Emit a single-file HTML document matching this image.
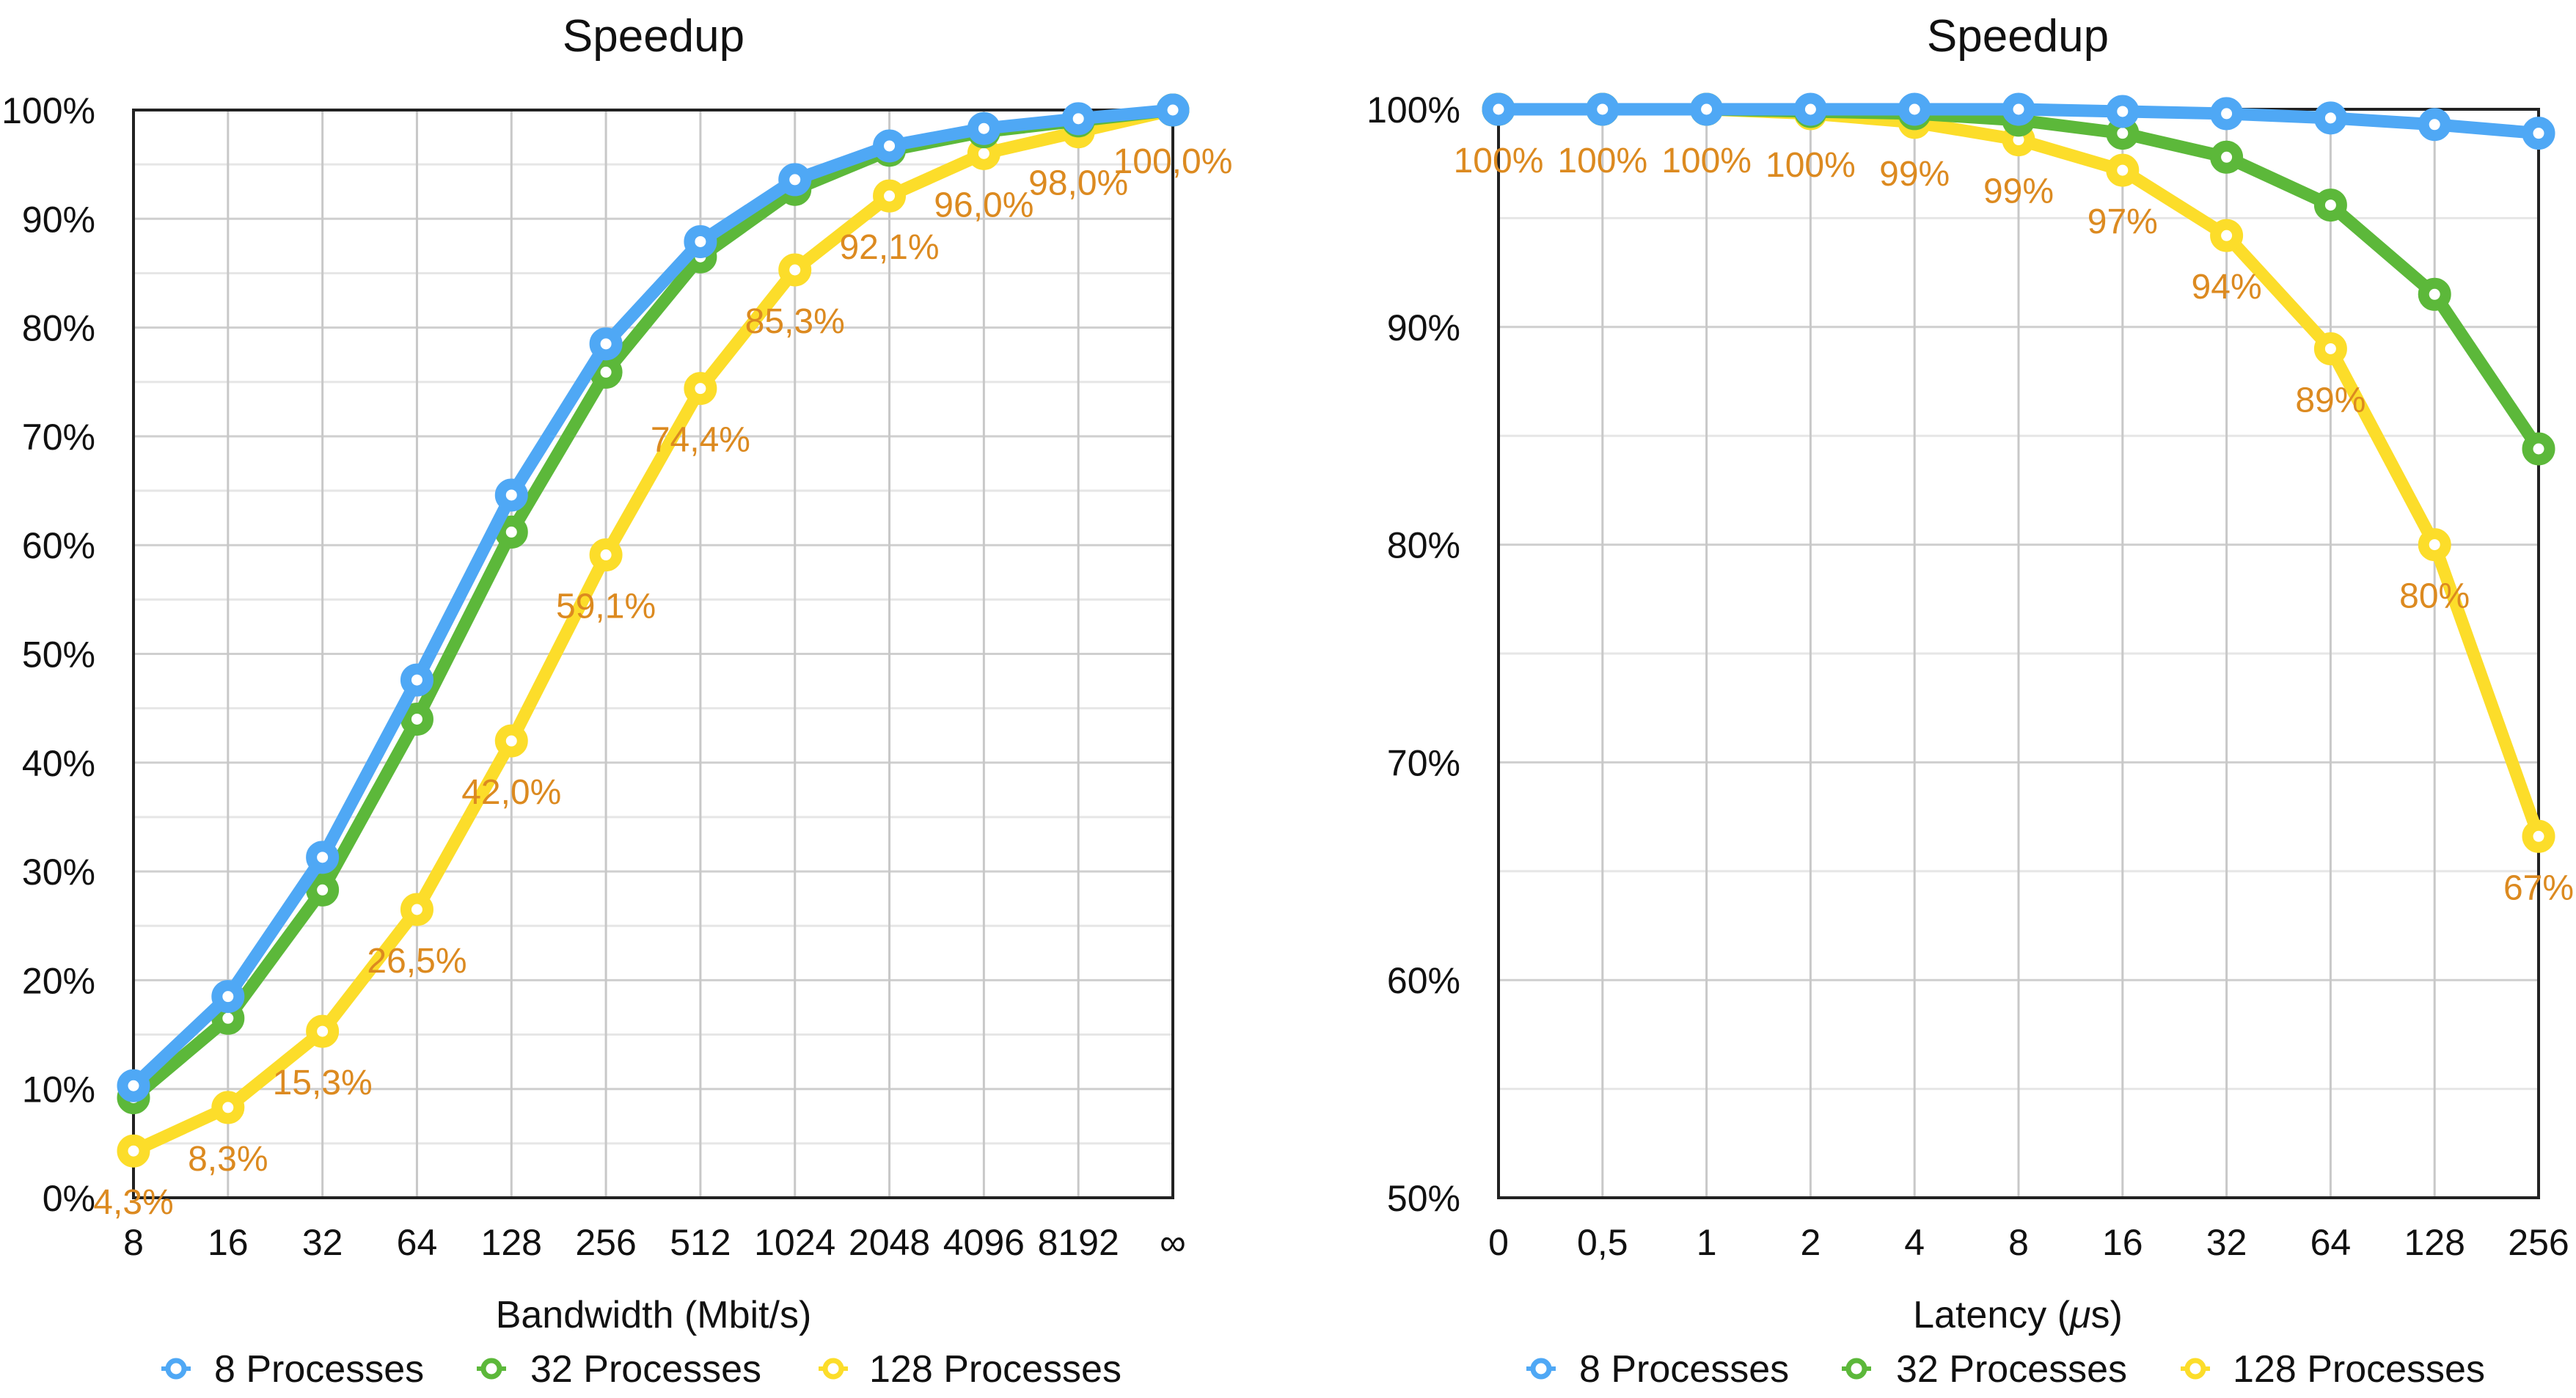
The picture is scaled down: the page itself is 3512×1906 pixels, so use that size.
<!DOCTYPE html>
<html><head><meta charset="utf-8"><style>
html,body{margin:0;padding:0;background:#fff;}
svg{display:block;font-family:"Liberation Sans",sans-serif;}
</style></head><body>
<svg id="s" width="3512" height="1906" viewBox="0 0 3512 1906" xmlns="http://www.w3.org/2000/svg"></svg>
<script>
const S=document.getElementById('s');let h='';
const BLUE='#4fa8f5',GREEN='#5cb83a',YEL='#fcdd2a',OR='#dc8a20';
function chart(o){
 const {x0,x1,y0,y1,vmin,vmax,xl,ylabels,minor,series,labels,labText,title,cx,axis,leg}=o;
 const n=xl.length, dx=(x1-x0)/(n-1);
 const Y=v=>y1-(v-vmin)/(vmax-vmin)*(y1-y0);
 minor.forEach(v=>{h+=`<line x1="${x0}" x2="${x1}" y1="${Y(v)}" y2="${Y(v)}" stroke="#e6e6e6" stroke-width="3"/>`});
 ylabels.forEach(v=>{h+=`<line x1="${x0}" x2="${x1}" y1="${Y(v)}" y2="${Y(v)}" stroke="#cfcfcf" stroke-width="3"/>`;
   h+=`<text x="${x0-52}" y="${Y(v)+18}" font-size="50" text-anchor="end" fill="#111">${v}%</text>`});
 for(let i=0;i<n;i++){const x=x0+i*dx;
   h+=`<line x1="${x}" x2="${x}" y1="${y0}" y2="${y1}" stroke="#c8c8c8" stroke-width="3"/>`;
   h+=`<text x="${x}" y="${y1+78}" font-size="50" text-anchor="middle" fill="#111">${xl[i]}</text>`;}
 h+=`<rect x="${x0}" y="${y0}" width="${x1-x0}" height="${y1-y0}" fill="none" stroke="#222" stroke-width="4"/>`;
 series.forEach(([c,d])=>{
   h+=`<polyline fill="none" stroke="${c}" stroke-width="17" stroke-linejoin="round" points="${d.map((v,i)=>(x0+i*dx)+','+Y(v)).join(' ')}"/>`;
   d.forEach((v,i)=>{h+=`<circle cx="${x0+i*dx}" cy="${Y(v)}" r="15" fill="#fff" stroke="${c}" stroke-width="15"/>`});
 });
 labels.forEach((v,i)=>{h+=`<text x="${x0+i*dx}" y="${Y(v)+86}" font-size="48" text-anchor="middle" fill="${OR}">${labText[i]}</text>`});
 h+=`<text x="${cx}" y="70" font-size="62" text-anchor="middle" fill="#111">${title}</text>`;
 h+=`<text x="${cx}" y="1810" font-size="52" text-anchor="middle" fill="#111">${axis}</text>`;
 leg.forEach(([mx,tx,c,t])=>{
   h+=`<line x1="${mx-20}" x2="${mx+20}" y1="1866" y2="1866" stroke="${c}" stroke-width="6"/>`;
   h+=`<circle cx="${mx}" cy="1866" r="11" fill="#fff" stroke="${c}" stroke-width="7"/>`;
   h+=`<text x="${tx}" y="1884" font-size="52" fill="#111">${t}</text>`;
 });
}
const Lb=[4.3,8.3,15.3,26.5,42.0,59.1,74.4,85.3,92.1,96.0,98.0,100.0];
chart({x0:182,x1:1599,y0:150,y1:1633,vmin:0,vmax:100,
 xl:['8','16','32','64','128','256','512','1024','2048','4096','8192','∞'],
 ylabels:[0,10,20,30,40,50,60,70,80,90,100],minor:[5,15,25,35,45,55,65,75,85,95],
 series:[[YEL,Lb],[GREEN,[9.2,16.5,28.3,44.0,61.2,75.9,86.5,92.7,96.3,98.0,99.0,100]],[BLUE,[10.3,18.5,31.3,47.6,64.6,78.5,87.9,93.6,96.7,98.3,99.2,100]]],
 labels:Lb,labText:Lb.map(v=>v.toFixed(1).replace('.',',')+'%'),
 title:'Speedup',cx:891,axis:'Bandwidth (Mbit/s)',
 leg:[[240,292,BLUE,'8 Processes'],[670,723,GREEN,'32 Processes'],[1136,1185,YEL,'128 Processes']]});
const Rb=[100,100,100,99.8,99.4,98.6,97.2,94.2,89.0,80.0,66.6];
chart({x0:2043,x1:3461,y0:149,y1:1633,vmin:50,vmax:100,
 xl:['0','0,5','1','2','4','8','16','32','64','128','256'],
 ylabels:[50,60,70,80,90,100],minor:[55,65,75,85,95],
 series:[[YEL,Rb],[GREEN,[100,100,100,99.9,99.8,99.5,98.9,97.8,95.6,91.5,84.4]],[BLUE,[100,100,100,100,100,100,99.9,99.8,99.6,99.3,98.9]]],
 labels:Rb,labText:['100%','100%','100%','100%','99%','99%','97%','94%','89%','80%','67%'],
 title:'Speedup',cx:2751,axis:'Latency (<tspan font-style="italic">μ</tspan>s)',
 leg:[[2101,2153,BLUE,'8 Processes'],[2531,2585,GREEN,'32 Processes'],[2993,3044,YEL,'128 Processes']]});
S.innerHTML=h;
</script>
</body></html>
